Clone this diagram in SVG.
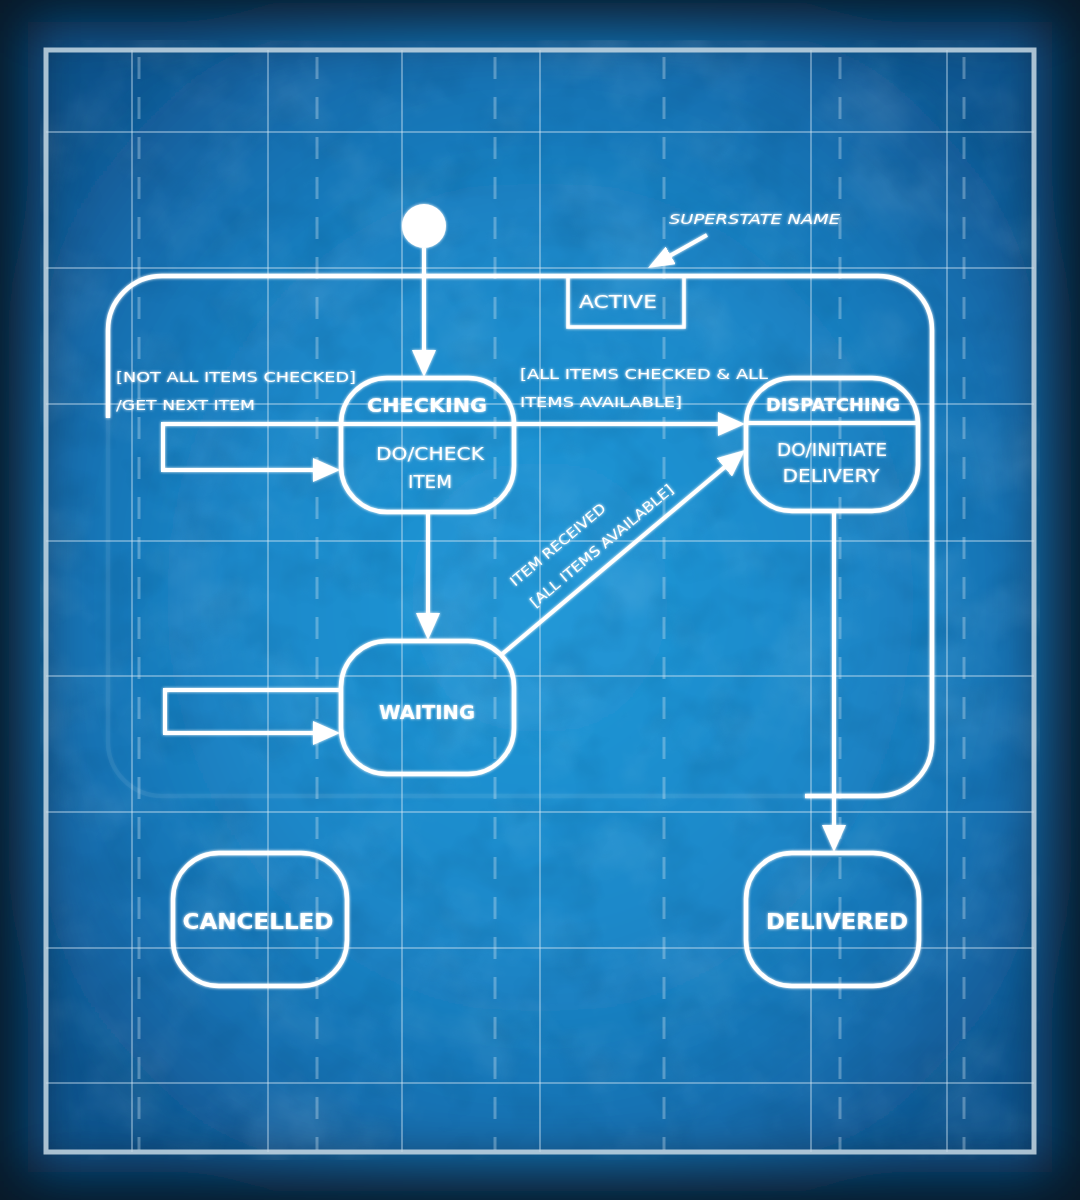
<svg xmlns="http://www.w3.org/2000/svg" width="1080" height="1200" viewBox="0 0 1080 1200">
<defs>
<style>
.grid{stroke:#d6e8f4;stroke-opacity:0.4;stroke-width:2;fill:none}
.dash{stroke:#d6e8f4;stroke-opacity:0.34;stroke-width:3;stroke-dasharray:22 18;fill:none}
.node{fill:none;stroke:#ffffff;stroke-width:4.5}
.edge{fill:none;stroke:#ffffff;stroke-width:4}
.title{font-family:"DejaVu Sans","Liberation Sans",sans-serif;font-weight:bold;fill:#ffffff;text-anchor:middle}
.body{font-family:"DejaVu Sans","Liberation Sans",sans-serif;fill:#ffffff;text-anchor:middle;font-size:17px}
.lbl{font-family:"DejaVu Sans","Liberation Sans",sans-serif;fill:#ffffff;font-size:14px}
</style>
<radialGradient id="blue" cx="0.5" cy="0.5" r="0.6">
<stop offset="0" stop-color="#2299d8"/>
<stop offset="0.5" stop-color="#1c88c9"/>
<stop offset="0.8" stop-color="#156fb0"/>
<stop offset="1" stop-color="#10558f"/>
</radialGradient>
<filter id="soft" x="-10%" y="-10%" width="120%" height="120%">
<feGaussianBlur stdDeviation="28"/>
</filter>
<filter id="tex" x="0" y="0" width="100%" height="100%">
<feTurbulence type="fractalNoise" baseFrequency="0.012" numOctaves="4" seed="7" result="n"/>
<feColorMatrix in="n" type="matrix" values="0 0 0 0 1  0 0 0 0 1  0 0 0 0 1  0.9 0 0 0 -0.42"/>
</filter>
<filter id="tex2" x="0" y="0" width="100%" height="100%">
<feTurbulence type="fractalNoise" baseFrequency="0.02" numOctaves="3" seed="11" result="n"/>
<feColorMatrix in="n" type="matrix" values="0 0 0 0 0  0 0 0 0 0.05  0 0 0 0 0.15  0.9 0 0 0 -0.4"/>
</filter>
<filter id="glow" x="-5%" y="-5%" width="110%" height="110%">
<feGaussianBlur in="SourceGraphic" stdDeviation="1.6" result="b"/>
<feMerge><feMergeNode in="b"/><feMergeNode in="SourceGraphic"/></feMerge>
</filter>
<marker id="arrow" markerUnits="userSpaceOnUse" markerWidth="27" markerHeight="24" refX="21" refY="12" orient="auto">
<path d="M0,0 L27,12 L0,24 Z" fill="#ffffff"/>
</marker>
<marker id="arrowSm" markerUnits="userSpaceOnUse" markerWidth="26" markerHeight="20" refX="20" refY="10" orient="auto">
<path d="M0,0 L26,10 L0,20 Z" fill="#ffffff"/>
</marker>
</defs>

<g id="background">
<rect x="0" y="0" width="1080" height="1200" fill="#081827"/>
<rect x="28" y="22" width="1024" height="1150" fill="url(#blue)" filter="url(#soft)"/>
<rect x="40" y="40" width="1000" height="1120" filter="url(#tex)" opacity="0.22"/>
<rect x="40" y="40" width="1000" height="1120" filter="url(#tex2)" opacity="0.35"/>
</g>

<g id="grid">
<line class="grid" x1="46" y1="132" x2="1034" y2="132"/>
<line class="grid" x1="46" y1="268" x2="1034" y2="268"/>
<line class="grid" x1="46" y1="404" x2="1034" y2="404"/>
<line class="grid" x1="46" y1="541" x2="1034" y2="541"/>
<line class="grid" x1="46" y1="676" x2="1034" y2="676"/>
<line class="grid" x1="46" y1="812" x2="1034" y2="812"/>
<line class="grid" x1="46" y1="948" x2="1034" y2="948"/>
<line class="grid" x1="46" y1="1083" x2="1034" y2="1083"/>
<line class="grid" x1="132" y1="50" x2="132" y2="1152"/>
<line class="grid" x1="268" y1="50" x2="268" y2="1152"/>
<line class="grid" x1="402" y1="50" x2="402" y2="1152"/>
<line class="grid" x1="540" y1="50" x2="540" y2="1152"/>
<line class="grid" x1="811" y1="50" x2="811" y2="1152"/>
<line class="grid" x1="947" y1="50" x2="947" y2="1152"/>
<line class="dash" x1="139" y1="57" x2="139" y2="1150"/>
<line class="dash" x1="317" y1="57" x2="317" y2="1150"/>
<line class="dash" x1="495" y1="57" x2="495" y2="1150"/>
<line class="dash" x1="664" y1="57" x2="664" y2="1150"/>
<line class="dash" x1="840" y1="57" x2="840" y2="1150"/>
<line class="dash" x1="964" y1="57" x2="964" y2="1150"/>
<rect x="46" y="50" width="988" height="1102" fill="none" stroke="#c6d8e4" stroke-opacity="0.85" stroke-width="5"/>
</g>

<g id="diagram" filter="url(#glow)">
<g id="active-superstate">
<path class="node" stroke-width="5" d="M108,418 V330 A54,54 0 0 1 162,276 H878 A54,54 0 0 1 932,330 V742 A54,54 0 0 1 878,796 H805"/>
<path class="node" stroke-width="5" stroke-opacity="0.05" d="M805,796 H162 A54,54 0 0 1 108,742 V418"/>
<rect x="568" y="276" width="116" height="51" fill="none" stroke="#ffffff" stroke-width="3.5"/>
<text class="body" x="618" y="308" font-size="18" textLength="78" lengthAdjust="spacingAndGlyphs">ACTIVE</text>
</g>

<g id="initial">
<circle cx="424" cy="226" r="22" fill="#ffffff"/>
</g>

<g id="checking">
<rect class="node" x="341" y="378" width="173" height="134" rx="46"/>
<line class="edge" x1="341" y1="424" x2="514" y2="424"/>
<text class="title" x="427" y="412" font-size="20" textLength="120" lengthAdjust="spacingAndGlyphs">CHECKING</text>
<text class="body" x="430" y="460" textLength="108" lengthAdjust="spacingAndGlyphs">DO/CHECK</text>
<text class="body" x="430" y="488" textLength="44" lengthAdjust="spacingAndGlyphs">ITEM</text>
</g>

<g id="dispatching">
<rect class="node" x="746" y="378" width="172" height="133" rx="46"/>
<line class="edge" x1="746" y1="423" x2="918" y2="423"/>
<text class="title" x="833" y="411" font-size="18" textLength="134" lengthAdjust="spacingAndGlyphs">DISPATCHING</text>
<text class="body" x="832" y="456" textLength="110" lengthAdjust="spacingAndGlyphs">DO/INITIATE</text>
<text class="body" x="831" y="482" textLength="97" lengthAdjust="spacingAndGlyphs">DELIVERY</text>
</g>

<g id="waiting">
<rect class="node" x="341" y="641" width="173" height="133" rx="46"/>
<text class="title" x="427" y="719" font-size="20" textLength="96" lengthAdjust="spacingAndGlyphs">WAITING</text>
</g>

<g id="cancelled">
<rect class="node" x="173" y="853" width="174" height="133" rx="46"/>
<text class="title" x="258" y="929" font-size="21" textLength="151" lengthAdjust="spacingAndGlyphs">CANCELLED</text>
</g>

<g id="delivered">
<rect class="node" x="746" y="853" width="173" height="133" rx="46"/>
<text class="title" x="837" y="929" font-size="21" textLength="142" lengthAdjust="spacingAndGlyphs">DELIVERED</text>
</g>

<g id="connectors">
<path class="edge" d="M424,248 V371" marker-end="url(#arrow)"/>
<path class="edge" d="M341,424 H163 V470 H334" marker-end="url(#arrow)"/>
<path class="edge" d="M514,424 H739" marker-end="url(#arrow)"/>
<path class="edge" d="M428,512 V634" marker-end="url(#arrow)"/>
<path class="edge" d="M341,690 H165 V733 H334" marker-end="url(#arrow)"/>
<path class="edge" d="M501,655 L740.4,453.9" marker-end="url(#arrow)"/>
<path class="edge" d="M834,511 V846" marker-end="url(#arrow)"/>
<path class="edge" d="M707,235 L653.2,265.1" marker-end="url(#arrowSm)"/>
</g>

<g id="labels">
<text class="lbl" x="116" y="382" textLength="240" lengthAdjust="spacingAndGlyphs">[NOT ALL ITEMS CHECKED]</text>
<text class="lbl" x="116" y="410" textLength="139" lengthAdjust="spacingAndGlyphs">/GET NEXT ITEM</text>
<text class="lbl" x="520" y="379" textLength="248" lengthAdjust="spacingAndGlyphs">[ALL ITEMS CHECKED &amp; ALL</text>
<text class="lbl" x="520" y="407" textLength="162" lengthAdjust="spacingAndGlyphs">ITEMS AVAILABLE]</text>
<text class="lbl" transform="translate(515,587) rotate(-40)" font-size="13" textLength="120" lengthAdjust="spacingAndGlyphs">ITEM RECEIVED</text>
<text class="lbl" transform="translate(535,608) rotate(-40)" font-size="13" textLength="182" lengthAdjust="spacingAndGlyphs">[ALL ITEMS AVAILABLE]</text>
<text class="lbl" x="669" y="224" font-size="15" font-style="italic" textLength="171" lengthAdjust="spacingAndGlyphs">SUPERSTATE NAME</text>
</g>
</g>
</svg>
